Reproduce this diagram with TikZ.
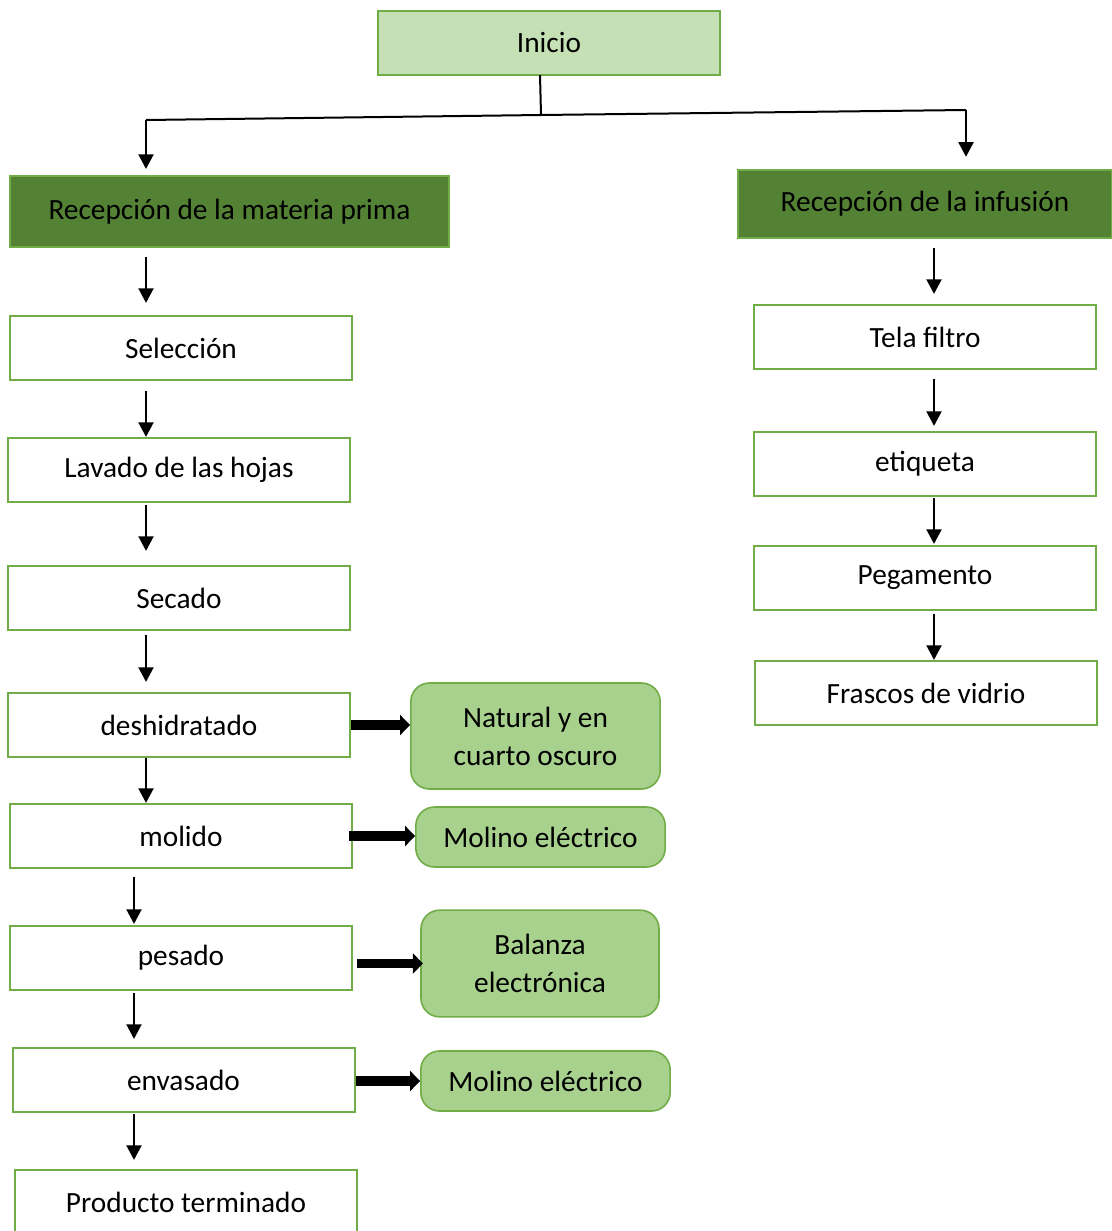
\documentclass[tikz,border=0pt]{standalone}
\usepackage{fontspec}
\setmainfont{Carlito}
\usepackage{tikz}
\usetikzlibrary{positioning,arrows.meta}
\definecolor{leafline}{HTML}{70AD47}
\definecolor{leaflight}{HTML}{C5E0B4}
\definecolor{leafdark}{HTML}{548235}
\definecolor{leafmid}{HTML}{A9D18E}

\begin{document}
\begin{tikzpicture}[
    x=0.75pt, y=-0.75pt,
    font=\fontsize{22}{28.5}\selectfont,
    startbox/.style={draw=leafline, fill=leaflight, line width=1.7pt, minimum width=256.5pt, minimum height=48pt, inner sep=0pt},
    headbox/.style ={draw=leafline, fill=leafdark, line width=1.7pt, inner sep=0pt},
    stepbox/.style ={draw=leafline, fill=white, line width=1.5pt, minimum width=256.5pt, minimum height=48pt, inner sep=0pt},
    toolbox/.style ={draw=leafline, fill=leafmid, line width=1.2pt, rounded corners=14pt, align=center, inner sep=0pt},
    arr/.style     ={line width=2.2pt, -{Triangle[length=11pt,width=11pt]}},
    fatarr/.style  ={line width=7pt, -{Triangle[length=7.5pt,width=15pt]}},
  ]
  \useasboundingbox (0,0) rectangle (1111,1231);

  % ---- start + the two heads ----
  \node[startbox] (ini) at (549,43) {Inicio};
  \node[headbox, minimum width=329pt, minimum height=53pt] (rmp) at (229.5,211.5) {Recepción de la materia prima};
  \node[headbox, minimum width=280.5pt, minimum height=51pt] (rinf) at (925,204) {Recepción de la infusión};

  % ---- left column ----
  \node[stepbox] (sel)  at (181,348)    {Selección};
  \node[stepbox] (lav)  at (179,470)    {Lavado de las hojas};
  \node[stepbox] (sec)  at (179,598)    {Secado};
  \node[stepbox] (des)  at (179,725)    {deshidratado};
  \node[stepbox] (mol)  at (181,836)    {molido};
  \node[stepbox] (pes)  at (181,958)    {pesado};
  \node[stepbox] (env)  at (183.5,1080) {envasado};
  \node[stepbox] (prod) at (186,1202)   {Producto terminado};

  % ---- right column ----
  \node[stepbox] (tela) at (925,337) {Tela filtro};
  \node[stepbox] (etiq) at (925,464) {etiqueta};
  \node[stepbox] (peg)  at (925,578) {Pegamento};
  \node[stepbox] (fras) at (926,693) {Frascos de vidrio};

  % ---- equipment ----
  \node[toolbox, minimum width=187pt, minimum height=79.5pt] (nat)  at (535.5,736)  {Natural y en\\cuarto oscuro};
  \node[toolbox, minimum width=187pt, minimum height=45pt]   (mol1) at (540.5,837)  {Molino eléctrico};
  \node[toolbox, minimum width=178.5pt, minimum height=80pt] (bal)  at (540,963.5)  {Balanza\\electrónica};
  \node[toolbox, minimum width=187pt, minimum height=45pt]   (mol2) at (545.5,1081) {Molino eléctrico};

  % ---- split below Inicio ----
  \coordinate (jt) at (540,75);
  \coordinate (jn) at (541,115);
  \coordinate (jl) at (146,120);
  \coordinate (jr) at (966,110);
  \draw[line width=1.5pt] (jt) -- (jn);
  \draw[line width=1.5pt] (jl) -- (jn) -- (jr);
  \draw[arr, shorten >=4.5pt] (jl) -- (rmp.north -| jl);
  \draw[arr, shorten >=9pt]   (jr) -- (rinf.north -| jr);

  % ---- arrow columns ----
  \coordinate (colA) at (146,0);
  \coordinate (colB) at (134,0);
  \coordinate (colR) at (934,0);
  \foreach \a/\b/\c/\s/\e in {rmp/sel/colA/6.75/9, sel/lav/colA/7.5/0, lav/sec/colA/1.5/10.5,
      sec/des/colA/3/7.5, des/mol/colA/0/0, mol/pes/colB/6/0.75, pes/env/colB/1.5/6,
      env/prod/colB/0.75/6.75, rinf/tela/colR/6.75/7.5, tela/etiq/colR/6.75/3.75,
      etiq/peg/colR/0.75/0.75, peg/fras/colR/2.25/0} {
    \draw[arr, shorten <=\s pt, shorten >=\e pt] (\a.south -| \c) -- (\b.north -| \c);
  }

  % ---- thick arrows to equipment ----
  \draw[fatarr] (des.east) -- (des.east -| nat.west);
  \draw[fatarr, shorten <=-3pt] (mol.east) -- (mol.east -| mol1.west);
  \draw[fatarr, shorten <=3pt, shorten >=-2pt] (pes.east |- bal.west) -- (bal.west);
  \draw[fatarr] (env.east |- mol2.west) -- (mol2.west);
\end{tikzpicture}
\end{document}
